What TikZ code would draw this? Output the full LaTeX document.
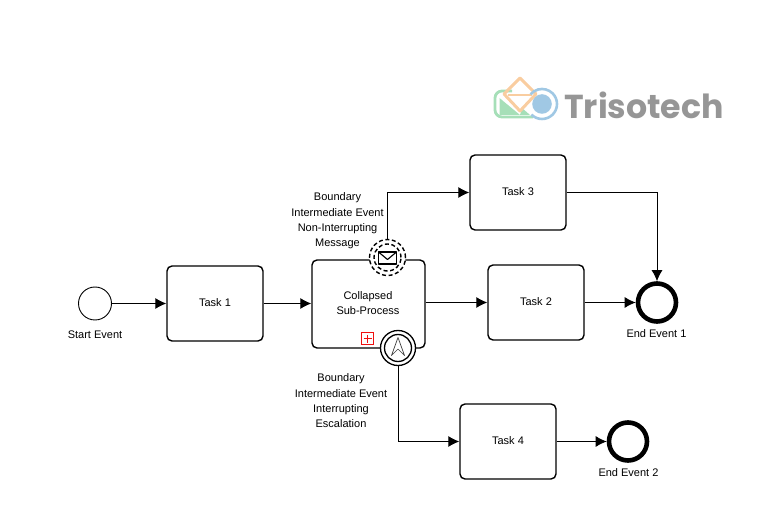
\documentclass[tikz,border=0pt]{standalone}
\usepackage{fontspec}
\setmainfont{Liberation Sans}
\newfontfamily\logofont{Poppins}
\usepackage{xcolor}
\usetikzlibrary{arrows.meta, calc, positioning}
\definecolor{logogreen}{HTML}{A6DFB8}
\definecolor{logoorange}{HTML}{F9CDA0}
\definecolor{logoblue}{HTML}{A0C8E4}
\definecolor{logogray}{HTML}{969696}
\definecolor{markerred}{HTML}{F01010}
\tikzset{
  flow/.style={draw,line width=0.9pt,-{Latex[length=11pt,width=11pt]}},
  taskbox/.style={draw,line width=1.4pt,rounded corners=5pt,minimum width=96pt,minimum height=75pt,align=center,inner sep=0pt,text depth=2.5pt,font=\fontsize{11}{15.3}\selectfont},
  eventcircle/.style={draw,circle,fill=white,inner sep=0pt,minimum size=#1},
  bounddash/.style={line width=1.4pt,dash pattern=on 4pt off 2.6pt},
  caption/.style={align=center,font=\fontsize{11}{15.3}\selectfont}
}
\begin{document}
\begin{tikzpicture}[x=1pt,y=-1pt]
\useasboundingbox (0,0) rectangle (769,529);
% logo
\draw[logogreen,line width=2.8pt,rounded corners=7pt] (533,117) -- (495,117) -- (495,91) -- (512,91);
\fill[logogreen] (499.5,98) -- (520,115) -- (499.5,115) -- cycle (520,115) -- (530,115) -- (522,108) -- cycle;
\draw[logoorange,line width=3pt,line join=round] (520,78) -- (504,94) -- (520,111) -- (536,94) -- cycle;
\draw[logoorange,line width=2.6pt] (508,95) -- (532,95);
\draw[logoblue,line width=2.6pt] (531.4,114.6) arc (135:-140:15);
\fill[logoblue] (542,104) circle (9.8);
\node[logogray,font=\logofont\bfseries\fontsize{33.2}{33.2}\selectfont,anchor=west,inner sep=0pt] (logo) at (564,105) {Trisotech};
% events and tasks
\node[eventcircle=33pt,line width=0.9pt] (start) at (95,303.5) {};
\node[taskbox] (task1) at (215,303.5) {Task 1};
\node[taskbox,minimum width=113pt,minimum height=88pt] (sub) at (368.5,304) {};
\node[taskbox] (task3) at (518,192.5) {Task 3};
\node[taskbox] (task2) at (536,302.5) {Task 2};
\node[taskbox] (task4) at (508,441.5) {Task 4};
\node[eventcircle=38pt,line width=4.6pt] (end1) at (657,302.5) {};
\node[eventcircle=38pt,line width=4.6pt] (end2) at (628,441.5) {};
% boundary events
\node[eventcircle=36pt,bounddash] (msg) at (387.5,257.5) {};
\node[eventcircle=27pt,bounddash] at (msg) {};
\node[eventcircle=35pt,line width=1.3pt] (esc) at (398,348) {};
\node[eventcircle=27pt,line width=1.3pt] at (esc) {};
% envelope
\draw[line width=1.1pt,line join=round] (378.5,252) rectangle (396.5,264);
\draw[line width=1.1pt,line join=round] (378.5,252) -- (387.5,259.5) -- (396.5,252);
% escalation arrow
\draw[line width=0.7pt,line join=round,black!75] (398,337.5) -- (391.5,355.5) -- (398,349) -- (404.5,355.5) -- cycle;
% collapse marker
\draw[markerred,line width=1pt] (361.5,333) rectangle (373.5,345);
\draw[markerred,line width=1pt] (367.5,335) -- (367.5,343) (363.5,339) -- (371.5,339);
% connectors
\draw[flow] (start) -- (task1);
\draw[flow] (task1) -- (task1 -| sub.west);
\draw[flow] (task2 -| sub.east) -- (task2.west);
\draw[flow] (msg.north) |- (task3.west);
\draw[flow] (task3.east) -| (end1.north);
\draw[flow] (task2.east) -- (end1.west);
\draw[flow] (esc.south) |- (task4.west);
\draw[flow] (task4.east) -- (end2.west);
% labels
\node[caption] (sublabel) at (368,303) {Collapsed\\Sub-Process};
\node[caption] (startlabel) at (95,335) {Start Event};
\node[caption] (end1label) at (656.5,334) {End Event 1};
\node[caption] (end2label) at (628.5,473) {End Event 2};
\node[caption] (msglabel) at (337.5,221) {Boundary\\Intermediate Event\\Non-Interrupting\\Message};
\node[caption] (esclabel) at (341,401) {Boundary\\Intermediate Event\\Interrupting\\Escalation};
\end{tikzpicture}
\end{document}
